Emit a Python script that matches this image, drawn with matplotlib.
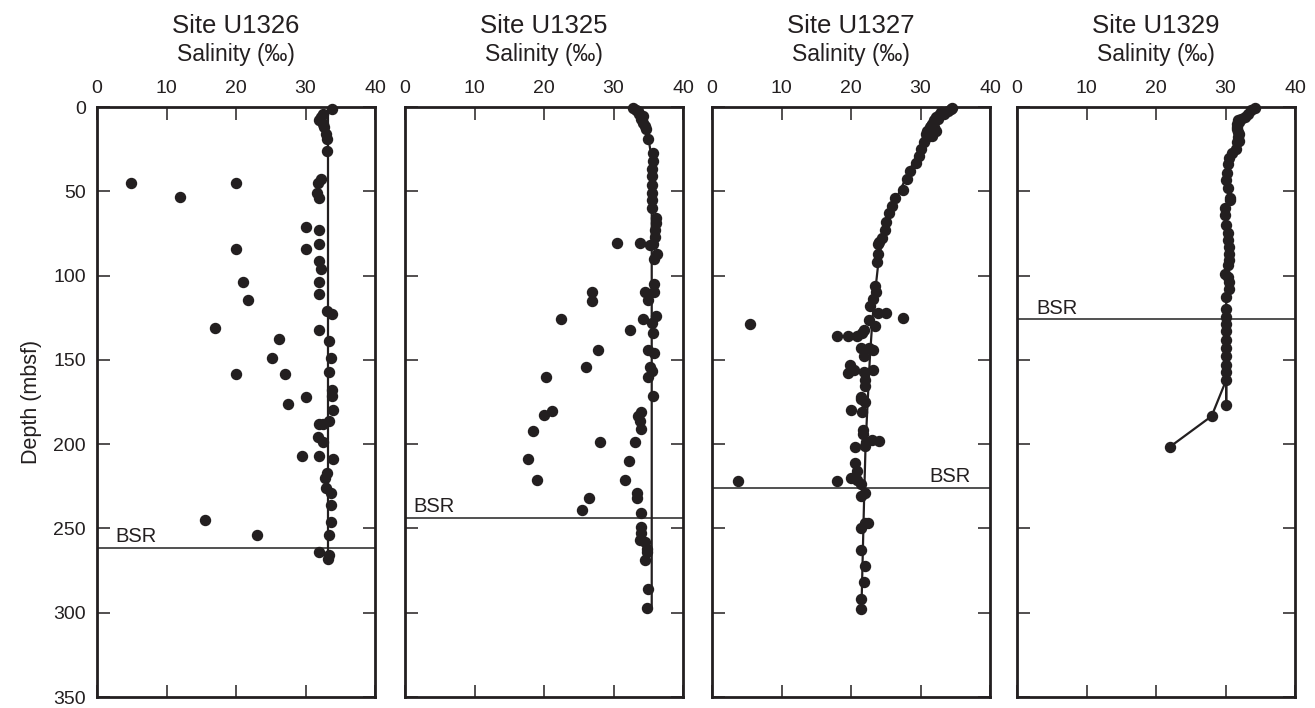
import matplotlib
matplotlib.use('Agg')
import matplotlib.pyplot as plt

plt.rcParams['font.family'] = ['Liberation Sans', 'DejaVu Sans']

INK = '#231f20'

sites = ['Site U1326', 'Site U1325', 'Site U1327', 'Site U1329']

# Site U1326 (salinity, depth)
sal_u1326 = [33.8, 32.5, 32.2, 32.0, 32.5, 32.7, 33.0, 33.1, 33.1,
             4.9, 20.0, 32.2, 31.8, 12.0, 31.7, 31.9,
             30.0, 32.0, 32.0, 20.0, 30.0, 31.9, 32.2,
             21.0, 32.0, 32.0, 21.7, 33.1, 33.8,
             17.0, 31.9, 26.2, 33.4, 25.2, 33.7,
             20.0, 27.0, 33.4, 33.8, 30.0, 33.8,
             27.5, 33.9, 33.4, 31.9, 32.5, 31.8, 32.5,
             29.5, 31.9, 33.9, 33.1, 32.8, 32.9, 33.7,
             33.7, 33.7, 15.5, 23.0, 33.4, 31.9, 33.4, 33.3]
dep_u1326 = [1, 4, 6, 8, 10, 12, 16, 19, 26,
             45, 45, 43, 45, 53.6, 51, 54,
             71, 73, 81, 84, 84, 91.5, 96,
             104, 104, 111, 114.6, 121, 123,
             131, 132, 137.5, 139, 149, 149,
             158.5, 158.5, 157, 168, 172, 171.5,
             176, 180, 186, 188, 188, 196, 199,
             207, 207, 209, 217, 220, 226, 229,
             236, 246, 245, 254, 254, 264, 265.5, 268]
fit_sal_u1326 = [33.3, 33.3]
fit_dep_u1326 = [1, 268]

# Site U1325
sal_u1325 = [32.8, 33.3, 33.7, 34.0, 34.3, 34.7, 33.5, 34.2, 34.5,
             35.0, 35.7, 35.7, 35.6, 35.6, 35.5, 35.6, 35.6, 35.6, 36.1, 36.1,
             36.0, 35.9, 35.7, 35.3, 30.5, 33.8, 36.2, 35.8,
             35.8, 34.5, 35.8, 35.0, 26.9, 26.9,
             22.5, 34.2, 36.1, 35.5, 35.7, 32.4,
             27.7, 35.0, 35.8, 26.0, 35.2, 35.6, 35.0, 20.3, 35.7,
             21.1, 20.0, 18.4, 28.0, 34.0, 33.5, 33.8, 33.9, 33.1,
             17.7, 32.2, 19.0, 31.7, 33.4, 33.4, 26.5, 25.5, 34.0,
             33.9, 33.9, 33.8, 34.5, 34.8, 34.8, 34.5, 35.0, 34.8]
dep_u1325 = [0.4, 1.6, 4, 7, 9.5, 13, 2.5, 5.5, 11,
             19, 27, 32, 37, 41, 46.4, 51, 55, 60, 66, 69,
             73, 77, 81, 82, 80.4, 80.4, 87, 90,
             105, 110, 110, 114.6, 110, 115,
             126, 126, 124, 128, 134, 132,
             144, 144, 146, 154, 154, 156.5, 160, 160, 171.5,
             180.4, 183, 192, 199, 181, 183.6, 186, 191, 199,
             209, 210, 221, 221, 229, 232, 232, 239, 241,
             249, 253, 257, 258, 262, 264, 269, 286, 297]
fit_sal_u1325 = [33.0, 34.0, 35.0, 35.4, 35.5, 35.5]
fit_dep_u1325 = [0, 6, 18, 28, 40, 297]

# Site U1327
sal_u1327 = [34.6, 34.4, 33.9, 33.4, 32.7, 32.2, 32.0, 31.7, 31.3, 31.0, 32.2,
             31.7, 31.0, 30.5, 30.0, 29.8, 29.3, 28.5, 28.0, 27.5, 26.4, 25.9,
             25.5, 25.0, 24.9, 24.5, 24.1, 23.9, 23.9, 23.8, 23.5, 23.6, 23.1,
             22.8, 23.9, 25.0, 27.5, 22.6, 23.4, 21.9, 5.5, 18.0, 19.5, 20.9,
             21.6, 21.4, 22.6, 23.1, 21.9, 19.9, 20.4, 19.5, 21.9, 23.1, 22.0,
             22.0, 21.4, 33.0, 32.5, 31.5, 32.0, 30.8, 31.5,
             21.5, 22.0, 20.0, 21.6, 21.7, 21.7, 22.1, 23.0, 24.0, 20.6, 22.0,
             20.6, 20.9, 20.0, 20.9, 21.4, 18.0, 3.7, 22.0, 21.5, 22.5, 22.0,
             21.4, 21.4, 22.0, 21.8, 21.4, 21.5]
dep_u1327 = [0.4, 1, 2.4, 4, 5, 6, 8, 10, 12, 14, 14,
             17, 18, 21, 25, 29, 33, 38, 43, 49.4, 54, 59,
             63, 68, 73, 77.5, 80, 81, 87, 92, 106, 110, 114,
             118, 122, 122, 125, 126.5, 130, 132, 129, 136, 136, 136,
             134, 143, 143, 144, 148, 153, 156, 158, 157, 156, 162,
             165.6, 172, 3, 7, 11, 12, 16, 15,
             173, 175, 180, 181, 191.7, 193.7, 198.5, 197.5, 198, 201.6, 201,
             211, 215.8, 219.8, 221, 223.7, 222, 222, 229, 231, 246.5, 246.5,
             250, 263, 272, 282, 291.7, 298]
fit_sal_u1327 = [34.6, 33.0, 31.5, 30.0, 28.5, 27.0, 25.7, 24.7, 24.0, 23.6,
                 23.1, 22.7, 22.4, 22.1, 21.9, 21.5]
fit_dep_u1327 = [0, 4, 12, 24, 37, 50, 62, 75, 90, 105,
                 125, 150, 175, 200, 230, 298]

# Site U1329 (connected profile)
sal_u1329 = [34.2, 33.7, 33.3, 32.8, 32.3, 31.8, 32.0, 31.6, 31.7, 31.6, 31.8,
             32.0, 31.8, 31.9, 31.7, 31.5, 30.9, 30.5, 30.4, 30.2, 30.1, 30.4,
             30.6, 30.6, 29.9, 29.9, 30.1, 30.4, 30.4, 30.5, 30.5, 30.5, 30.4,
             29.9, 30.4, 30.5, 30.5, 30.1, 30.1, 30.1, 30.1, 30.1, 30.1, 30.1,
             30.1, 30.1, 30.1, 30.1, 28.0, 22.0]
dep_u1329 = [0.4, 2, 4, 6, 7, 8, 9, 10, 12, 13, 15,
             16, 18, 20, 21, 25, 27, 30, 34, 39, 43.5, 48,
             54, 55, 60, 64, 70, 75, 79, 83, 87, 91, 94,
             99, 101, 104, 108, 113, 119.6, 124.5, 129, 133, 138, 143,
             148, 153, 157, 162, 183.4, 201.6]
sal_u1329 = sal_u1329[:47] + [30.1] + sal_u1329[47:]
dep_u1329 = dep_u1329[:47] + [176.5] + dep_u1329[47:]

bsr_depth = [261.5, 244, 226, 126]
bsr_label_x = [2.6, 1.2, 37.2, 2.8]
bsr_align = ['left', 'left', 'right', 'left']

xticks = [0, 10, 20, 30, 40]
yticks = [0, 50, 100, 150, 200, 250, 300, 350]

W, H = 1315, 708
fig = plt.figure(figsize=(W / 100, H / 100), dpi=100, facecolor='white')

lefts = [97, 405, 712, 1017]
panel_w, panel_h, panel_b = 278, 590, 11

series = [
    (sal_u1326, dep_u1326, fit_sal_u1326, fit_dep_u1326, False),
    (sal_u1325, dep_u1325, fit_sal_u1325, fit_dep_u1325, False),
    (sal_u1327, dep_u1327, fit_sal_u1327, fit_dep_u1327, False),
    (sal_u1329, dep_u1329, None, None, True),
]

for i, (sal, dep, fsal, fdep, connect) in enumerate(series):
    ax = fig.add_axes([lefts[i] / W, panel_b / H, panel_w / W, panel_h / H])
    if connect:
        ax.plot(sal, dep, '-', color=INK, lw=1.6, zorder=2)
    else:
        ax.plot(fsal, fdep, '-', color=INK, lw=1.6, zorder=2)
    ax.plot(sal, dep, 'o', color=INK, ms=7.2, mec=INK, zorder=3, clip_on=False)
    ax.axhline(bsr_depth[i], color='#333333', lw=1.2, zorder=1)
    ax.text(bsr_label_x[i], bsr_depth[i] - 3.5, 'BSR', fontsize=14.5,
            color=INK, ha=bsr_align[i], va='baseline')

    ax.set_xlim(0, 40)
    ax.set_ylim(350, 0)
    ax.set_xticks(xticks)
    ax.set_yticks(yticks)
    ax.xaxis.tick_top()
    ax.tick_params(axis='both', direction='in', length=9, width=1.1,
                   top=True, bottom=True, left=True, right=True,
                   labeltop=True, labelbottom=False, labelleft=(i == 0),
                   labelright=False, labelsize=14, colors=INK, pad=7)
    ax.tick_params(axis='y', pad=8)
    for spine in ax.spines.values():
        spine.set_linewidth(2.0)
        spine.set_color(INK)
    if i == 0:
        ax.set_ylabel('Depth (mbsf)', fontsize=15.5, color=INK, labelpad=8)

    cx = (lefts[i] + panel_w / 2) / W
    fig.text(cx, 1 - 33 / H, sites[i], fontsize=18.5, color=INK,
             ha='center', va='baseline')
    fig.text(cx, 1 - 61.5 / H, 'Salinity (‰)', fontsize=16.5, color=INK,
             ha='center', va='baseline')

fig.savefig('out.png', dpi=100, facecolor='white')
